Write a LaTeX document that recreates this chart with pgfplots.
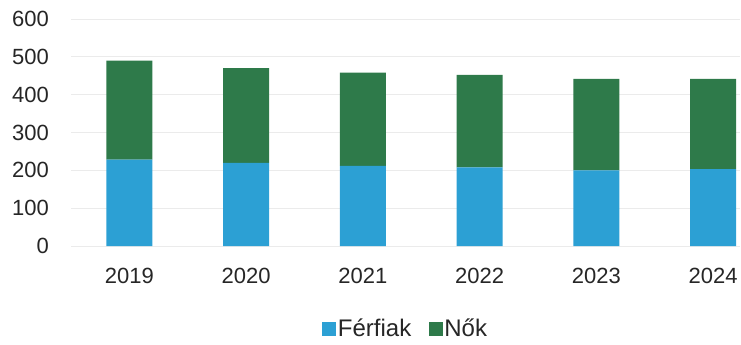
\documentclass[border=0pt]{standalone}
\usepackage{pgfplots}
\pgfplotsset{compat=1.18}
\usepackage{fontspec}
\setmainfont{Liberation Sans}
\definecolor{ferfi}{RGB}{44,160,212}
\definecolor{noi}{RGB}{46,122,74}
\begin{document}
\begin{tikzpicture}
\begin{axis}[
  scale only axis, width=669bp, height=227bp,
  ybar stacked, bar width=46bp,
  xmin=-0.5, xmax=5.23, ymin=0, ymax=600,
  ytick={0,100,...,600},
  xtick={0,...,5}, xticklabels={2019,2020,2021,2022,2023,2024},
  axis line style={draw=none}, major tick length=0pt,
  ymajorgrids, grid style={black!8, line width=0.8bp},
  tick label style={font=\fontsize{22bp}{24bp}\selectfont, text=black!85},
  /pgf/number format/assume math mode=true,
  yticklabel style={anchor=east, inner sep=0pt, xshift=-22bp},
  xticklabel style={anchor=center, inner sep=0pt, yshift=-30bp},
  legend style={at={(0.5,-0.365)}, anchor=center, draw=none,
    font=\fontsize{24bp}{26bp}\selectfont, text=black!85,
    /tikz/every odd column/.append style={column sep=0bp},
    /tikz/every even column/.append style={column sep=16bp},
    nodes={inner xsep=1.5bp}},
  legend columns=2,
  legend image code/.code={\fill[#1] (0bp,-7bp) rectangle (14bp,7bp);},
]
\coordinate (O) at (rel axis cs:0,0);
\addplot[fill=ferfi, draw=none] coordinates {(0,228) (1,220) (2,212) (3,208) (4,200) (5,203)};
\addplot[fill=noi, draw=none] coordinates {(0,262) (1,250) (2,246) (3,244) (4,242) (5,239)};
\legend{Férfiak, Nők}
\end{axis}
\pgfresetboundingbox
\path (O) ++(-71bp,-99bp) rectangle ++(741bp,345bp);
\end{tikzpicture}
\end{document}
